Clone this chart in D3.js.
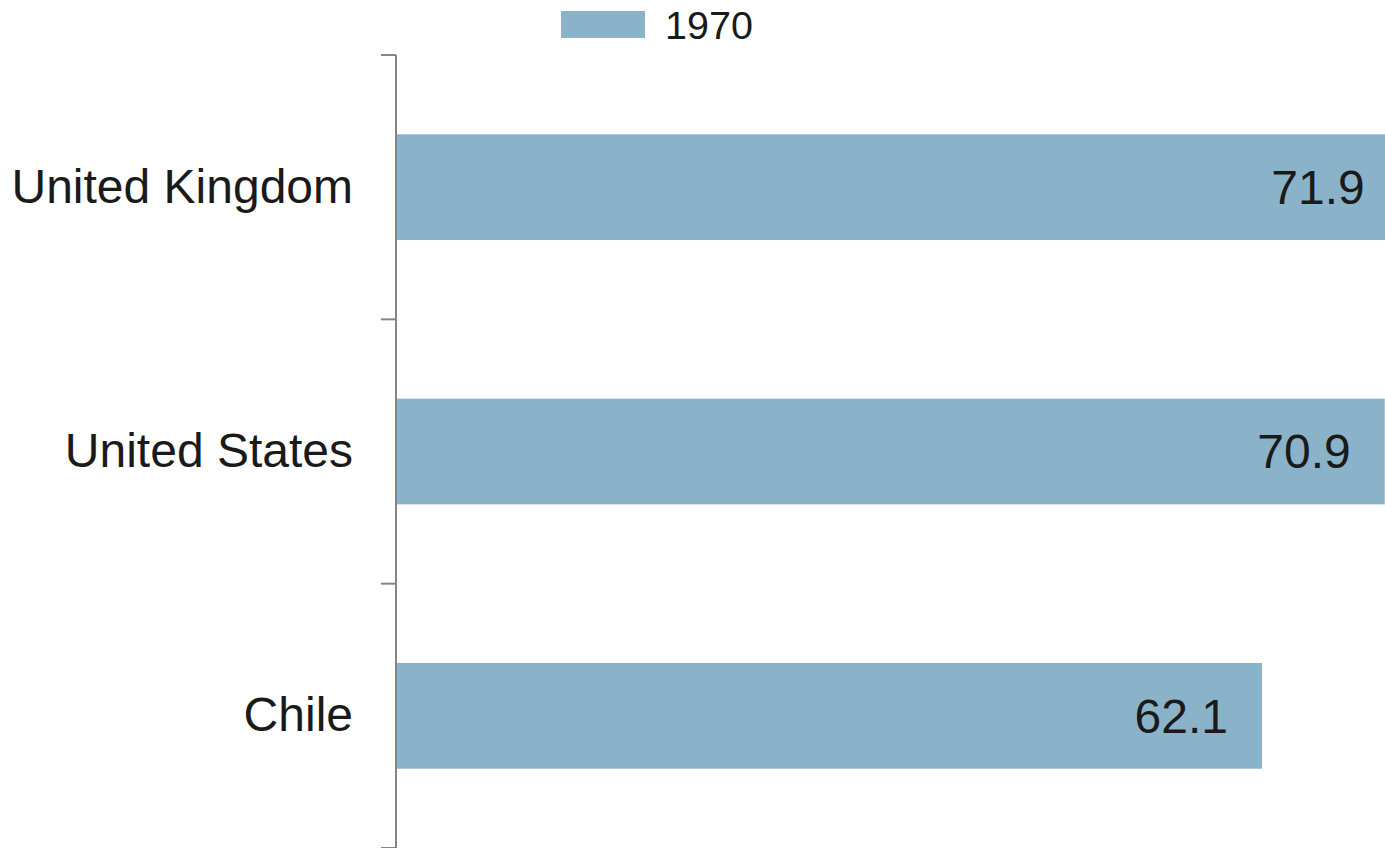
<!DOCTYPE html>
<html>
<head>
<meta charset="utf-8">
<script src="https://cdn.jsdelivr.net/npm/d3@7"></script>
<style>
  body { margin: 0; background: #fff; overflow: hidden; }
  svg { display: block; font-family: "Liberation Sans", Arial, sans-serif; }
</style>
</head>
<body>
<div id="chart"></div>
<script>
// data
var categories = ["United Kingdom", "United States", "Chile"];
var values = [71.9, 70.9, 62.1];
var seriesName = "1970";

var width = 1385, height = 848;
var margin = {top: 55, right: 0, bottom: 0, left: 396};
var barColor = "#8ab2c9";

var svg = d3.select("#chart").append("svg")
    .attr("width", width)
    .attr("height", height);

// x: 0 at the axis, 62.1 ends at x=1262
var x = d3.scaleLinear()
    .domain([0, 62.1])
    .range([margin.left, 1262]);

var y = d3.scaleBand()
    .domain(categories)
    .range([margin.top, height])
    .paddingInner(0.6)
    .paddingOuter(0.3);

var bars = svg.append("g").attr("id", "bars");
bars.selectAll("rect")
    .data(values)
    .enter().append("rect")
    .attr("x", x(0))
    .attr("y", function(d, i){ return y(categories[i]); })
    .attr("width", function(d){ return x(d) - x(0); })
    .attr("height", y.bandwidth())
    .attr("fill", barColor);

// value labels, right-aligned inside the bar end
bars.selectAll("text")
    .data(values)
    .enter().append("text")
    .attr("x", function(d){ return x(d) - 34; })
    .attr("y", function(d, i){ return y(categories[i]) + y.bandwidth() / 2; })
    .attr("dy", "0.35em")
    .attr("text-anchor", "end")
    .attr("font-size", 48)
    .attr("fill", "#1a1a1a")
    .text(function(d){ return d3.format(".1f")(d); });

// category axis
var yAxis = d3.axisLeft(y).tickSize(0).tickPadding(43);
var axisG = svg.append("g")
    .attr("transform", "translate(" + margin.left + ",0)")
    .call(yAxis);
axisG.select(".domain").remove();
axisG.selectAll("text")
    .attr("font-size", 48)
    .attr("font-family", "Liberation Sans, Arial, sans-serif")
    .attr("fill", "#1a1a1a");

// axis line and boundary ticks between categories
var tickYs = d3.range(categories.length + 1).map(function(i){
    return margin.top + i * (height - margin.top) / categories.length;
});
var lines = svg.append("g").attr("id", "axisLines");
lines.append("line")
    .attr("x1", margin.left).attr("x2", margin.left)
    .attr("y1", margin.top).attr("y2", height)
    .attr("stroke", "#858585")
    .attr("stroke-width", 2);
lines.selectAll("line.tick")
    .data(tickYs)
    .enter().append("line")
    .attr("class", "tick")
    .attr("x1", margin.left - 15).attr("x2", margin.left)
    .attr("y1", function(d){ return d; })
    .attr("y2", function(d){ return d; })
    .attr("stroke", "#858585")
    .attr("stroke-width", 2);

// legend
var legend = svg.append("g").attr("id", "legend");
legend.append("rect")
    .attr("x", 561).attr("y", 11)
    .attr("width", 84).attr("height", 27)
    .attr("fill", barColor);
legend.append("text")
    .attr("x", 665).attr("y", 39)
    .attr("font-size", 39.5)
    .attr("fill", "#1a1a1a")
    .text(seriesName);
</script>
</body>
</html>
